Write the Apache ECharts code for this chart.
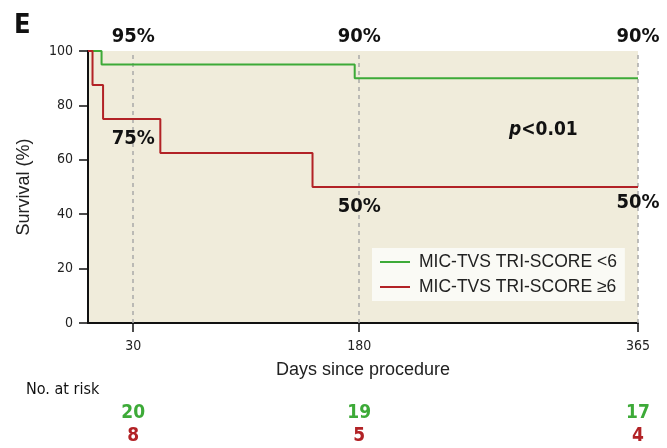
<!DOCTYPE html>
<html><head><meta charset="utf-8">
<script src="https://cdn.jsdelivr.net/npm/echarts@6/dist/echarts.min.js"></script>
<style>html,body{margin:0;padding:0;background:#fff}#c{width:667px;height:448px}</style>
</head><body><div id="c"></div>
<script>
// ---- data ----
const xTicks = [30, 180, 365];
const lowTimes = [0, 9, 177, 365];
const lowSurv = [100, 95, 90, 90];
const highTimes = [0, 3, 10, 48, 149, 365];
const highSurv = [100, 87.5, 75, 62.5, 50, 50];
const seriesNames = ['MIC-TVS TRI-SCORE <6', 'MIC-TVS TRI-SCORE \u22656'];
const topAnnotTimes = [30, 180, 365];
const topAnnotVals = [95, 90, 90];
const lowAnnotTimes = [30, 180, 365];
const lowAnnotVals = [75, 50, 50];
const riskTimes = [30, 180, 365];
const riskLow = [20, 19, 17];
const riskHigh = [8, 5, 4];
const pText = 'p<0.01';

// ---- style ----
const GREEN = '#3daa38', RED = '#b22226';
const NARROW = '"Liberation Sans Narrow","DejaVu Sans Condensed",sans-serif';
const SANS = '"Liberation Sans",Arial,sans-serif';

const chart = echarts.init(document.getElementById('c'), null, {renderer: 'canvas'});
const zip = (a, b) => a.map((v, i) => [v, b[i]]);
const hidden = {color: 'transparent', opacity: 1};

chart.setOption({
  animation: false,
  grid: [
    {left: 88, right: 29, top: 51, bottom: 125, show: true, backgroundColor: '#f0ecdb', borderWidth: 0},
    {left: 88, right: 29, top: 401, height: 48, show: false}
  ],
  legend: {
    orient: 'vertical', left: 372, top: 248,
    backgroundColor: '#fafaf5',
    padding: [5, 8, 5, 8], itemGap: 7,
    itemWidth: 30, itemHeight: 2, icon: 'rect',
    textStyle: {fontFamily: SANS, fontSize: 17.5, color: '#222', lineHeight: 17, padding: [0, 0, 0, 4]},
    data: seriesNames
  },
  xAxis: [
    {type: 'value', gridIndex: 0, min: 0, max: 365,
     name: 'Days since procedure', nameLocation: 'middle', nameGap: 38,
     nameTextStyle: {fontFamily: SANS, fontSize: 18, color: '#222'},
     axisLine: {show: true, lineStyle: {color: '#111', width: 2}},
     axisTick: {show: true, length: 9, customValues: xTicks, lineStyle: {color: '#111', width: 1.5}},
     axisLabel: {customValues: xTicks, margin: 16, fontFamily: NARROW, fontSize: 14, color: '#222'},
     splitLine: {show: false}},
    {type: 'value', gridIndex: 1, min: 0, max: 365, show: false}
  ],
  yAxis: [
    {type: 'value', gridIndex: 0, min: 0, max: 100, interval: 20,
     name: 'Survival (%)', nameLocation: 'middle', nameGap: 55,
     nameTextStyle: {fontFamily: SANS, fontSize: 18, color: '#222'},
     axisLine: {show: true, lineStyle: {color: '#111', width: 2}},
     axisTick: {show: true, length: 9, lineStyle: {color: '#111', width: 1.5}},
     axisLabel: {margin: 15, fontFamily: NARROW, fontSize: 14, color: '#222'},
     splitLine: {show: false}},
    {type: 'category', gridIndex: 1, inverse: true, data: ['low', 'high'], show: false}
  ],
  series: [
    {name: seriesNames[0], type: 'line', step: 'end', xAxisIndex: 0, yAxisIndex: 0,
     data: zip(lowTimes, lowSurv), symbol: 'none', color: GREEN,
     lineStyle: {color: GREEN, width: 2}, z: 3,
     markLine: {silent: true, symbol: 'none', label: {show: false}, z: 1,
       lineStyle: {color: '#a9a9a9', type: [4, 4], width: 1.5},
       data: xTicks.map(t => ({xAxis: t}))}},
    {name: seriesNames[1], type: 'line', step: 'end', xAxisIndex: 0, yAxisIndex: 0,
     data: zip(highTimes, highSurv), symbol: 'none', color: RED,
     lineStyle: {color: RED, width: 2}, z: 3},
    {type: 'scatter', xAxisIndex: 0, yAxisIndex: 0, symbolSize: 0.1, itemStyle: hidden,
     data: topAnnotTimes.map((t, i) => ({value: [t, 100], label: {formatter: topAnnotVals[i] + '%'}})),
     label: {show: true, position: 'inside', offset: [0, -14], fontFamily: NARROW, fontWeight: 'bold', fontSize: 20, color: '#111'}, z: 5},
    {type: 'scatter', xAxisIndex: 0, yAxisIndex: 0, symbolSize: 0.1, itemStyle: hidden,
     data: lowAnnotTimes.map((t, i) => ({value: [t, lowAnnotVals[i]], label: {formatter: lowAnnotVals[i] + '%', offset: [0, i === 2 ? 16 : 20]}})),
     label: {show: true, position: 'inside', fontFamily: NARROW, fontWeight: 'bold', fontSize: 20, color: '#111'}, z: 5},
    {type: 'scatter', xAxisIndex: 1, yAxisIndex: 1, symbolSize: 0.1, itemStyle: hidden,
     data: riskTimes.map((t, i) => ({value: [t, 'low'], label: {formatter: String(riskLow[i])}})),
     label: {show: true, position: 'inside', fontFamily: NARROW, fontWeight: 'bold', fontSize: 19, color: GREEN}},
    {type: 'scatter', xAxisIndex: 1, yAxisIndex: 1, symbolSize: 0.1, itemStyle: hidden,
     data: riskTimes.map((t, i) => ({value: [t, 'high'], label: {formatter: String(riskHigh[i])}})),
     label: {show: true, position: 'inside', fontFamily: NARROW, fontWeight: 'bold', fontSize: 19, color: RED}}
  ],
  graphic: [
    {type: 'text', left: 14, top: 12, style: {text: 'E', fontFamily: NARROW, fontWeight: 'bold', fontSize: 27, fill: '#111'}},
    {type: 'text', left: 26, top: 382, style: {text: 'No. at risk', fontFamily: NARROW, fontSize: 16, fill: '#111'}},
    {type: 'text', left: 509, top: 121, style: {
      text: '{i|' + pText.slice(0, 1) + '}{b|' + pText.slice(1) + '}',
      rich: {i: {fontFamily: NARROW, fontStyle: 'italic', fontWeight: 'bold', fontSize: 19, fill: '#111'},
             b: {fontFamily: NARROW, fontWeight: 'bold', fontSize: 19, fill: '#111'}}}}
  ]
});
</script>
</body></html>
